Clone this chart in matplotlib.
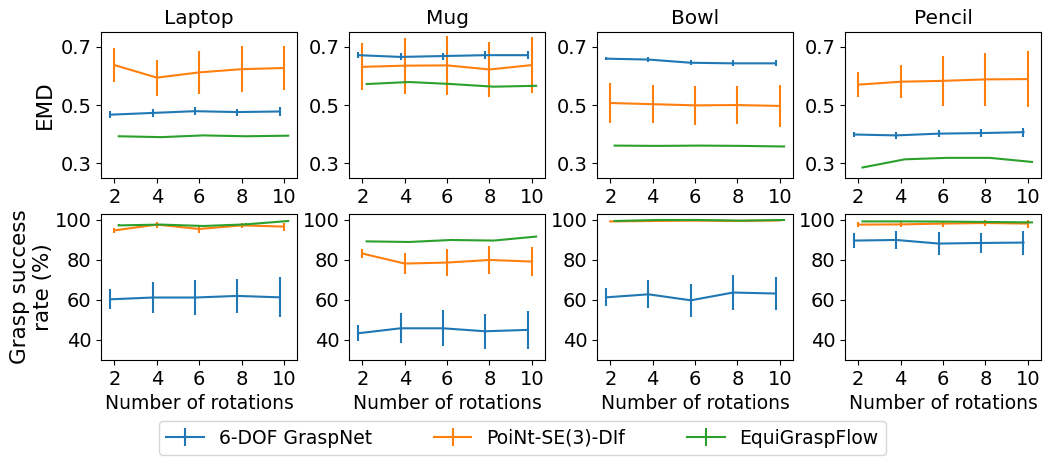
import numpy as np
import matplotlib
matplotlib.use('Agg')
import matplotlib.pyplot as plt

# data
rotations = [2, 4, 6, 8, 10]
objects = ['Laptop', 'Mug', 'Bowl', 'Pencil']
methods = ['6-DOF GraspNet', 'PoiNt-SE(3)-DIf', 'EquiGraspFlow']

# EMD (mean, std) per object, per method
emd_graspnet = {
    'Laptop': ([0.467, 0.473, 0.479, 0.476, 0.478], [0.012, 0.014, 0.014, 0.012, 0.014]),
    'Mug':    ([0.671, 0.665, 0.668, 0.671, 0.671], [0.010, 0.012, 0.012, 0.013, 0.013]),
    'Bowl':   ([0.659, 0.656, 0.645, 0.643, 0.643], [0.006, 0.008, 0.009, 0.010, 0.010]),
    'Pencil': ([0.399, 0.396, 0.402, 0.404, 0.407], [0.010, 0.013, 0.012, 0.013, 0.015]),
}
emd_diff = {
    'Laptop': ([0.637, 0.594, 0.612, 0.623, 0.627], [0.057, 0.062, 0.074, 0.078, 0.074]),
    'Mug':    ([0.631, 0.635, 0.636, 0.622, 0.637], [0.081, 0.096, 0.100, 0.093, 0.095]),
    'Bowl':   ([0.507, 0.503, 0.499, 0.500, 0.497], [0.067, 0.065, 0.066, 0.066, 0.071]),
    'Pencil': ([0.570, 0.580, 0.583, 0.588, 0.589], [0.043, 0.057, 0.086, 0.091, 0.095]),
}
emd_flow = {
    'Laptop': ([0.393, 0.390, 0.396, 0.393, 0.395], [0.002, 0.002, 0.002, 0.002, 0.002]),
    'Mug':    ([0.572, 0.579, 0.572, 0.563, 0.566], [0.002, 0.002, 0.002, 0.002, 0.002]),
    'Bowl':   ([0.361, 0.360, 0.361, 0.360, 0.358], [0.002, 0.002, 0.002, 0.002, 0.002]),
    'Pencil': ([0.286, 0.314, 0.319, 0.319, 0.305], [0.002, 0.002, 0.002, 0.002, 0.002]),
}

# grasp success rate (mean, std)
succ_graspnet = {
    'Laptop': ([60.3, 61.2, 61.2, 62.0, 61.3], [5.0, 7.8, 8.8, 8.5, 10.0]),
    'Mug':    ([43.3, 45.8, 45.8, 44.3, 45.0], [4.0, 7.5, 9.0, 8.8, 9.5]),
    'Bowl':   ([61.3, 62.8, 59.8, 63.7, 63.2], [4.5, 7.0, 8.4, 8.6, 8.2]),
    'Pencil': ([89.7, 90.0, 88.2, 88.5, 88.7], [3.7, 4.7, 5.7, 5.2, 6.0]),
}
succ_diff = {
    'Laptop': ([94.8, 97.7, 95.5, 97.3, 96.7], [1.2, 1.5, 2.0, 1.3, 2.0]),
    'Mug':    ([83.2, 78.2, 78.7, 80.0, 79.2], [2.3, 5.4, 6.7, 7.2, 7.2]),
    'Bowl':   ([99.3, 99.5, 99.7, 99.5, 99.8], [0.3, 0.3, 0.3, 0.3, 0.3]),
    'Pencil': ([97.7, 97.8, 98.2, 98.5, 98.2], [1.2, 1.5, 1.5, 1.3, 2.0]),
}
succ_flow = {
    'Laptop': ([97.3, 97.7, 97.0, 97.8, 99.5], [0.5, 0.5, 0.5, 0.5, 0.3]),
    'Mug':    ([89.3, 89.0, 90.0, 89.7, 91.7], [0.4, 0.4, 0.4, 0.4, 0.4]),
    'Bowl':   ([99.5, 100.0, 100.0, 99.7, 100.0], [0.2, 0.2, 0.2, 0.2, 0.2]),
    'Pencil': ([99.3, 99.3, 99.2, 99.0, 98.8], [0.3, 0.3, 0.3, 0.3, 0.3]),
}

colors = ['tab:blue', 'tab:orange', 'tab:green']
offsets = [-0.2, 0.0, 0.2]

plt.rcParams['font.size'] = 14

fig, axes = plt.subplots(2, 4, figsize=(10.45, 4.59), dpi=100)
fig.subplots_adjust(left=0.097, right=0.996, top=0.93, bottom=0.216,
                    wspace=0.267, hspace=0.247)

x = np.array(rotations)
handles = []
for j, obj in enumerate(objects):
    ax = axes[0, j]
    for k, d in enumerate([emd_graspnet, emd_diff, emd_flow]):
        m, s = d[obj]
        h = ax.errorbar(x + offsets[k], m, yerr=s, color=colors[k], label=methods[k])
        if j == 0:
            handles.append(h)
    ax.set_ylim(0.25, 0.75)
    ax.set_yticks([0.3, 0.5, 0.7])
    ax.set_xticks(rotations)
    ax.set_title(obj, fontsize=14.5)

    ax = axes[1, j]
    for k, d in enumerate([succ_graspnet, succ_diff, succ_flow]):
        m, s = d[obj]
        ax.errorbar(x + offsets[k], m, yerr=s, color=colors[k])
    ax.set_ylim(30, 103)
    ax.set_yticks([40, 60, 80, 100])
    ax.set_xticks(rotations)
    ax.set_xlabel('Number of rotations', fontsize=13.5)

axes[0, 0].set_ylabel('EMD', fontsize=15.5)
axes[1, 0].set_ylabel('Grasp success\nrate (%)', fontsize=15.5, labelpad=1)

fig.legend(handles, methods, loc='lower center', ncol=3, bbox_to_anchor=(0.5, -0.012),
           fontsize=13.5, columnspacing=3.3)

plt.savefig('out.png')
